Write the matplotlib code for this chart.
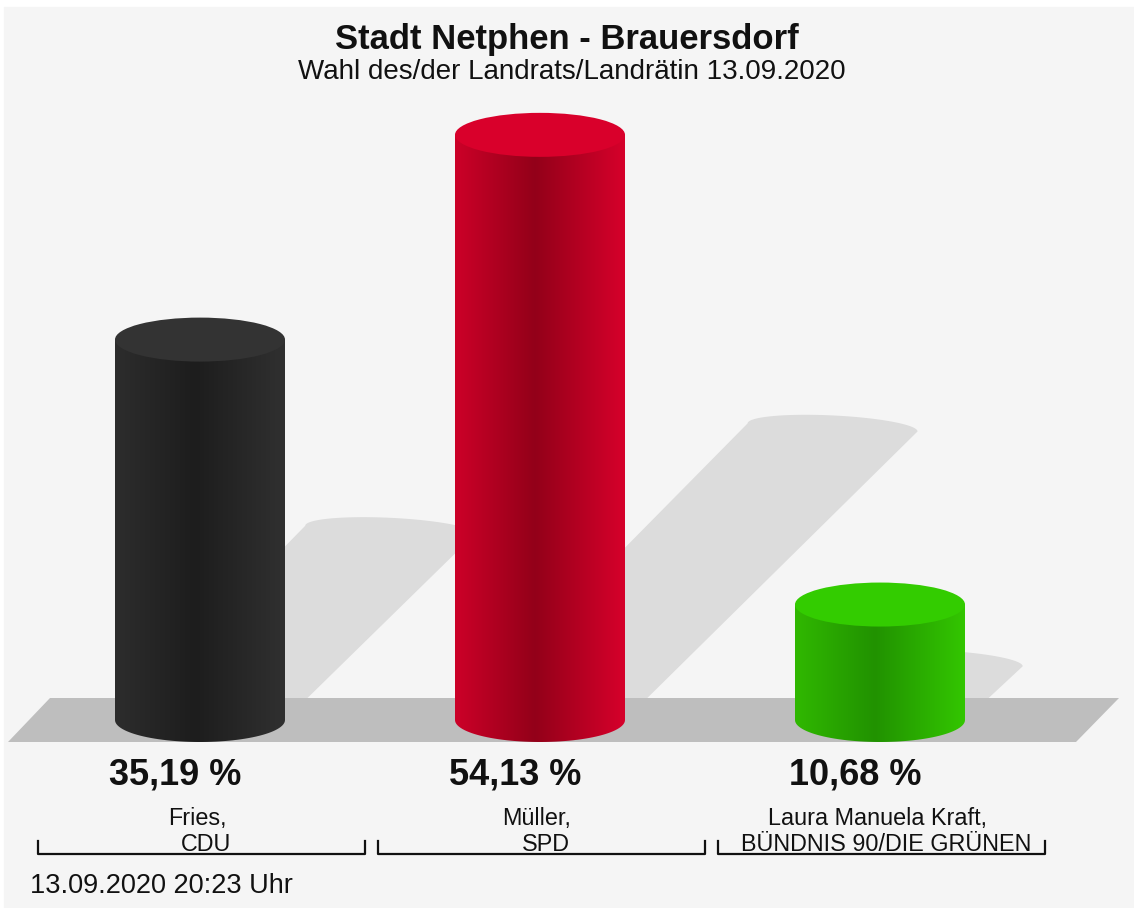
import numpy as np
import matplotlib.pyplot as plt
from matplotlib.patches import Ellipse, Polygon, PathPatch, Rectangle
from matplotlib.path import Path
from matplotlib.colors import to_rgb

# data
names = ['Fries,', 'Müller,', 'Laura Manuela Kraft,']
parties = ['CDU', 'SPD', 'BÜNDNIS 90/DIE GRÜNEN']
values = [35.19, 54.13, 10.68]
side_colors = [('#2d2d2d', '#1d1d1d', '#303030'),
               ('#cc0028', '#930019', '#d6002b'),
               ('#30b800', '#219200', '#33c600')]
top_colors = ['#333333', '#d9002b', '#33cc00']
title = 'Stadt Netphen - Brauersdorf'
subtitle = 'Wahl des/der Landrats/Landrätin 13.09.2020'
timestamp = '13.09.2020 20:23 Uhr'

W, H = 1134, 908
fig = plt.figure(figsize=(W / 100, H / 100), dpi=100, facecolor='white')
ax = fig.add_axes([0, 0, 1, 1])
ax.set_xlim(0, W)
ax.set_ylim(H, 0)
ax.axis('off')
font = 'Liberation Sans'

ax.add_patch(Rectangle((4, 7), W, H, color='#f5f5f5', zorder=0))

base = 720      # floor line of the cylinders
scale = 10.81   # pixels per percent
r, ry = 85, 22
centers = [200, 540, 880]


def gradient(c1, c2, c3, n=200):
    a, b, c = np.array(to_rgb(c1)), np.array(to_rgb(c2)), np.array(to_rgb(c3))
    out = np.zeros((1, n, 3))
    for i, ti in enumerate(np.linspace(0, 1, n)):
        if ti < 0.47:
            out[0, i] = a + (b - a) * (ti / 0.47)
        else:
            out[0, i] = b + (c - b) * ((ti - 0.47) / 0.53)
    return out


# shadows (sheared half-height copies of the cylinders)
for cx, v in zip(centers, values):
    sh = 0.5 * v * scale
    th = np.linspace(np.pi, 2 * np.pi, 40)
    top = [(cx + sh + r * np.cos(a), base - sh + 12 * np.sin(a) + 4 * np.cos(a)) for a in th]
    bot = [(cx + r * np.cos(a), base - 12 * np.sin(a)) for a in th[::-1]]
    pts = top + [(cx + r, base)] + bot
    ax.add_patch(Polygon(pts, closed=True, color='#dcdcdc', lw=0, zorder=1))

# floor
ax.add_patch(Polygon([(8, 742), (50, 698), (1119, 698), (1076, 742)],
                     closed=True, color='#bebebe', lw=0, zorder=2))

# cylinders
for cx, v, sc, tc in zip(centers, values, side_colors, top_colors):
    top_c = base - v * scale
    th = np.linspace(np.pi, 0, 60)
    verts = [(cx - r, top_c), (cx - r, base)]
    verts += [(cx + r * np.cos(a), base + ry * np.sin(a)) for a in th]
    verts += [(cx + r, top_c), (cx - r, top_c)]
    clip = PathPatch(Path(verts), transform=ax.transData, facecolor='none', edgecolor='none')
    ax.add_patch(clip)
    im = ax.imshow(gradient(*sc), extent=(cx - r, cx + r, base + ry + 1, top_c),
                   aspect='auto', zorder=3, interpolation='bilinear')
    im.set_clip_path(clip)
    ax.add_patch(Ellipse((cx, top_c), 2 * r, 2 * ry, color=tc, lw=0, zorder=4))

ax.set_xlim(0, W)
ax.set_ylim(H, 0)

# labels
for cx, v, name, party in zip(centers, values, names, parties):
    ax.text(cx - 25, 775, f'{v:.2f}'.replace('.', ',') + ' %', ha='center', va='center',
            fontsize=26, fontweight='bold', family=font, color='#111111')
    ax.text(cx - 3, 825, name, ha='center', va='baseline', fontsize=16.8, family=font, color='#111111')
    ax.text(cx + 6, 851, party, ha='center', va='baseline', fontsize=16.8, family=font, color='#111111')
    x0, x1 = cx - 162, cx + 165
    ax.plot([x0, x0, x1, x1], [841, 854, 854, 841], color='#111111', lw=1.6, zorder=5)

ax.text(W / 2, 40, title, ha='center', va='center', fontsize=24.9, fontweight='bold',
        family=font, color='#111111')
ax.text(W / 2 + 5, 72, subtitle, ha='center', va='center', fontsize=20, family=font, color='#111111')
ax.text(30, 886, timestamp, ha='left', va='center', fontsize=19.5, family=font, color='#111111')

fig.savefig('out.png', dpi=100, facecolor='white')
